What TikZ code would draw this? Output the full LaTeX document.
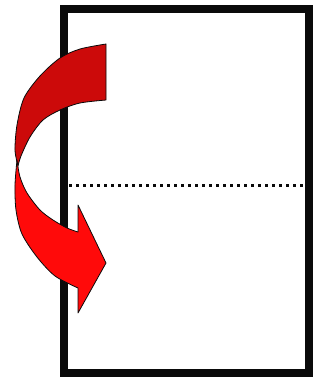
\documentclass[tikz,border=0pt]{standalone}
\usepackage{tikz}
\usetikzlibrary{positioning}
\definecolor{foldink}{HTML}{0A0A0A}
\definecolor{foldback}{HTML}{CC0A0A}
\definecolor{foldfront}{HTML}{FF0A0A}
\tikzset{
  sheet/.style={draw=foldink, line width=8pt, fill=white, minimum width=245pt, minimum height=364pt, inner sep=0pt},
  foldline/.style={draw=foldink, line width=3pt, dash pattern=on 3pt off 4pt},
  flapback/.style={fill=foldback, draw=foldink, line width=0.8pt, line join=round},
  flapfront/.style={fill=foldfront, draw=foldink, line width=0.8pt, line join=round},
}
\begin{document}
\begin{tikzpicture}[x=1pt, y=-1pt]
    \useasboundingbox (0,0) rectangle (320,378);
    % the page and its fold
    \node[sheet] (page) at (186.5,191) {};
    \coordinate (foldL) at (69,185);
    \coordinate (foldR) at (305,185);
    \draw[foldline] (foldL) -- (foldR);
    % turning arrow, back half
    \path[flapback] (106,44) -- (106,100)
      -- plot[smooth] coordinates {(106,100) (80,103) (60,110) (43,120) (30,137) (21,156) (18,166)}
      -- plot[smooth] coordinates {(18,166) (15,150) (17,125) (24,98) (40,76) (60,58) (80,49) (106,44)}
      -- cycle;
    % turning arrow, front half with head
    \path[flapfront] plot[smooth] coordinates {(17,160) (15,185) (16,210) (22,234) (37,257) (55,276) (78,288)}
      -- (78,313) -- (106,263) -- (78,205) -- (78,232)
      -- plot[smooth] coordinates {(78,232) (67,228) (53,220) (40,210) (27,193) (20,177) (17,160)}
      -- cycle;
  \end{tikzpicture}
\end{document}
